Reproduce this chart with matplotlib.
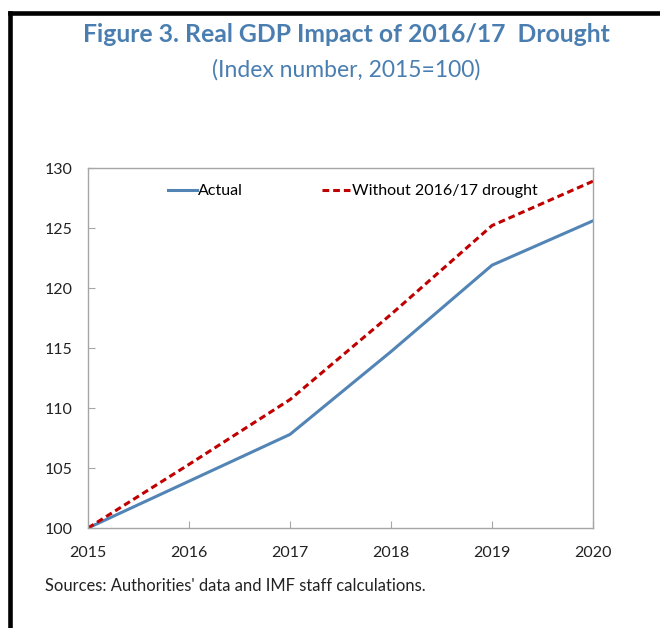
import matplotlib
matplotlib.use('Agg')
import matplotlib.pyplot as plt
from matplotlib.lines import Line2D

years = [2015, 2016, 2017, 2018, 2019, 2020]
actual = [100, 103.9, 107.8, 114.7, 121.9, 125.6]
no_drought = [100, 105.3, 110.7, 117.8, 125.2, 128.9]
yticks = [100, 105, 110, 115, 120, 125, 130]

plt.rcParams['font.family'] = ['Lato', 'DejaVu Sans']
blue = '#4A7EB0'
red = '#C00000'
grey = '#A6A6A6'

fig = plt.figure(figsize=(6.6, 6.28), dpi=100)
ax = fig.add_axes([88/660, 1-528/628, (593-88)/660, (528-168)/628])

ax.plot(years, actual, color='#5285B5', lw=2.2, label='Actual')
ax.plot(years, no_drought, color=red, lw=2.2, ls=(0, (2.2, 1.3)), label='Without 2016/17 drought')

ax.set_xlim(2015, 2020)
ax.set_ylim(100, 130)
ax.set_xticks(years)
ax.set_yticks(yticks)
for s in ax.spines.values():
    s.set_color(grey)
    s.set_linewidth(1)
ax.tick_params(direction='in', length=5, color=grey, labelsize=11.5, labelcolor='#222222')
ax.tick_params(axis='x', pad=13)
ax.tick_params(axis='y', pad=11)

ax.legend(loc='upper left', bbox_to_anchor=(0.13, 0.995), ncol=2, frameon=False,
          fontsize=11.5, handlelength=1.8, handletextpad=0.1, columnspacing=4.9)

fig.text(346/660, 1-35/628, 'Figure 3. Real GDP Impact of 2016/17  Drought',
         ha='center', va='center', fontsize=17.8, fontweight='bold', color=blue)
fig.text(346/660, 1-70/628, '(Index number, 2015=100)',
         ha='center', va='center', fontsize=16.5, color=blue)
fig.text(45/660, 1-586/628, "Sources: Authorities' data and IMF staff calculations.",
         ha='left', va='center', fontsize=11.9, color='#222222')

# black frame at top and left edge
fig.add_artist(Line2D([10/660, 1.0], [1-13/628, 1-13/628], color='black', lw=3.3,
                      transform=fig.transFigure, solid_capstyle='projecting'))
fig.add_artist(Line2D([10/660, 10/660], [1-13/628, 0], color='black', lw=3.3,
                      transform=fig.transFigure, solid_capstyle='projecting'))

fig.savefig('out.png', dpi=100)
